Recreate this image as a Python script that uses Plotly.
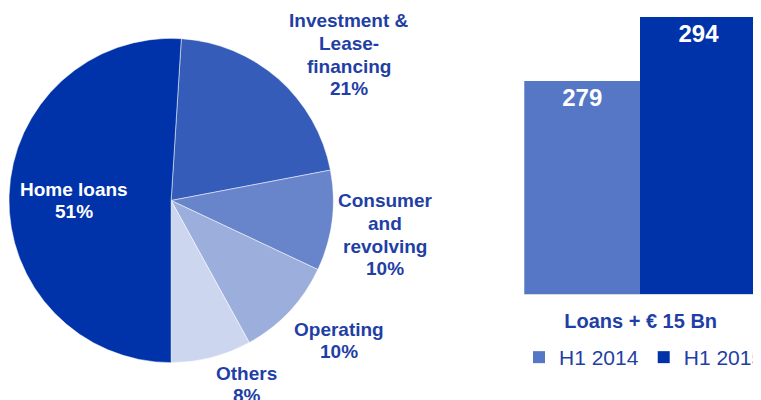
import plotly.graph_objects as go

# ---- data ----
pie_labels = ["Investment &<br>Lease-<br>financing", "Consumer<br>and<br>revolving", "Operating", "Others", "Home loans"]
pie_values = [21, 10, 10, 8, 51]
pie_colors = ["#365CB9", "#6884CB", "#9BAEDC", "#CDD6EF", "#0033A9"]

bar_category = ["Loans + € 15 Bn"]
bar_series = ["H1 2014", "H1 2015"]
bar_values = [[279], [294]]
bar_colors = ["#5577C5", "#0033A9"]

W, H = 761, 400
OFF = 8  # page body margin offset
TXT = "#1F3FA6"
FONT = "Liberation Sans, Arial, sans-serif"


def fx(px):
    return (px - OFF) / W


def fy(py):
    return 1 - (py - OFF) / H


fig = go.Figure()

fig.add_trace(go.Pie(
    labels=pie_labels, values=pie_values, sort=False, direction="clockwise",
    rotation=3.6, marker=dict(colors=pie_colors, line=dict(color="white", width=0.5)),
    textinfo="none", hoverinfo="label+percent", showlegend=False,
    domain=dict(x=[fx(9), fx(335)], y=[fy(364), fy(37)]),
))

for name, vals, col in zip(bar_series, bar_values, bar_colors):
    fig.add_trace(go.Bar(
        x=bar_category, y=vals, name=name, marker=dict(color=col, line=dict(width=0)),
        text=[str(v) for v in vals], textposition="inside", insidetextanchor="end",
        textfont=dict(color="white", size=24, family=FONT, weight="bold"),
        xaxis="x", yaxis="y", cliponaxis=False,
    ))

# pie label positions: centre x and first-line centre y (page pixels), line pitch
label_pos = [(351, 21), (387, 201), (341, 329), (248, 373), (74, 189)]
PITCH = 22.5
total = sum(pie_values)
for lab, v, (px, py) in zip(pie_labels, pie_values, label_pos):
    color = "white" if lab == "Home loans" else TXT
    lines = lab.split("<br>") + [f"{round(100 * v / total)}%"]
    for i, line in enumerate(lines):
        fig.add_annotation(
            x=fx(px), y=fy(py + i * PITCH), xref="paper", yref="paper",
            text=line, showarrow=False,
            xanchor="center", yanchor="middle", align="center",
            font=dict(family=FONT, size=19, color=color, weight="bold"),
        )

fig.update_layout(
    width=W, height=H, margin=dict(l=0, r=0, t=0, b=0),
    paper_bgcolor="white", plot_bgcolor="white",
    barmode="group", bargap=0, bargroupgap=0,
    xaxis=dict(domain=[fx(527), fx(761)], showline=True, linecolor="#D9D9D9", linewidth=1,
               ticks="outside", ticklen=9, tickcolor="rgba(0,0,0,0)",
               tickfont=dict(family=FONT, size=20, color=TXT, weight="bold"),
               showgrid=False, fixedrange=True),
    yaxis=dict(domain=[fy(294), 1], range=[229.1, 296.1], showticklabels=False,
               showgrid=False, zeroline=False, showline=False, fixedrange=True),
    legend=dict(orientation="h", x=fx(522), y=fy(337), xanchor="left", yanchor="top",
                font=dict(family=FONT, size=21, color=TXT), itemwidth=30,
                bgcolor="rgba(0,0,0,0)", traceorder="normal"),
    font=dict(family=FONT),
)

fig.write_html("out.html", config={"displayModeBar": False},
               post_script="document.documentElement.style.overflow='hidden';")
